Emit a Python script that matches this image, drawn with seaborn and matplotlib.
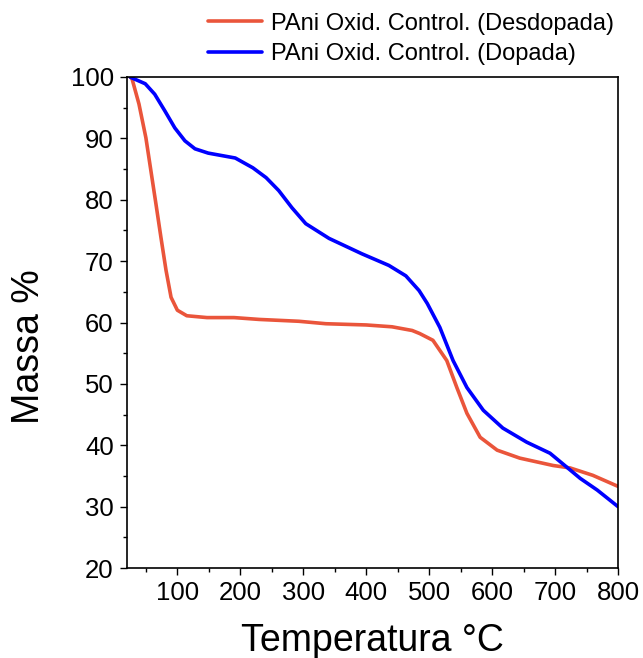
import numpy as np
import pandas as pd
import matplotlib
matplotlib.use("Agg")
import matplotlib.pyplot as plt
from matplotlib.ticker import MultipleLocator
from matplotlib.lines import Line2D
import seaborn as sns

# Data
red_T = [25, 28, 39, 50, 58, 66, 74, 82, 90, 100, 115, 147, 190, 230, 293, 336,
         400, 441, 473, 485, 506, 528, 544, 560, 581, 608, 644, 697, 724, 760, 800]
red_M = [100, 99.7, 95.6, 90.1, 84.7, 79.3, 73.8, 68.5, 64.1, 62, 61.1, 60.8, 60.8,
         60.5, 60.2, 59.8, 59.6, 59.3, 58.7, 58.2, 57.1, 53.8, 49.4, 45.2, 41.3, 39.2,
         37.9, 36.7, 36.3, 35.1, 33.3]
blue_T = [25, 29, 49, 64, 80, 96, 112, 128, 149, 192, 220, 241, 261, 282, 304, 341,
          393, 436, 463, 484, 497, 517, 538, 560, 586, 617, 655, 692, 719, 740, 767, 800]
blue_M = [100, 99.8, 98.9, 97.2, 94.5, 91.7, 89.6, 88.3, 87.6, 86.8, 85.2, 83.6, 81.5,
          78.7, 76.1, 73.7, 71.2, 69.3, 67.6, 65.2, 63.1, 59.2, 53.8, 49.4, 45.7, 42.8,
          40.5, 38.7, 36.4, 34.6, 32.7, 30]
labels = ["PAni Oxid. Control. (Desdopada)", "PAni Oxid. Control. (Dopada)"]
colors = ["#EA553B", "#0000FF"]
x_ticks = [100, 200, 300, 400, 500, 600, 700, 800]
y_ticks = [20, 30, 40, 50, 60, 70, 80, 90, 100]

df = pd.concat([
    pd.DataFrame({"T": red_T, "M": red_M, "serie": labels[0]}),
    pd.DataFrame({"T": blue_T, "M": blue_M, "serie": labels[1]}),
], ignore_index=True)

sns.set_theme(style="ticks")
plt.rcParams["font.family"] = ["Liberation Sans", "DejaVu Sans"]
plt.rcParams["text.color"] = "black"
plt.rcParams["axes.labelcolor"] = "black"

fig = plt.figure(figsize=(6.43, 6.58), dpi=100)
ax = fig.add_axes([127 / 643, 1 - 568 / 658, 491 / 643, 491 / 658])

sns.lineplot(data=df, x="T", y="M", hue="serie", palette=colors, sort=False,
             linewidth=2.6, ax=ax, legend=False)

ax.set_xlim(20, 800)
ax.set_ylim(20, 100)
ax.set_xticks(x_ticks)
ax.set_yticks(y_ticks)
ax.xaxis.set_minor_locator(MultipleLocator(50))
ax.yaxis.set_minor_locator(MultipleLocator(5))
ax.tick_params(axis="both", which="major", direction="out", length=5, width=1,
               labelsize=18.5, colors="black", pad=4.5, top=False, right=False)
ax.tick_params(axis="both", which="minor", direction="out", length=3, width=1,
               colors="black", top=False, right=False)
for s in ax.spines.values():
    s.set_visible(True)
    s.set_linewidth(1.2)
    s.set_color("black")

ax.set_xlabel("Temperatura °C", fontsize=27)
ax.set_ylabel("Massa %", fontsize=27)
ax.xaxis.set_label_coords(0.5, -0.112)
ax.yaxis.set_label_coords(-0.163, 0.451)

handles = [Line2D([], [], color=c, lw=2.6) for c in colors]
fig.legend(handles, labels, loc="upper left", bbox_to_anchor=(208 / 643, 0.981),
           frameon=False, fontsize=17, handlelength=2.3, handletextpad=0.35,
           labelspacing=0.38, borderpad=0, borderaxespad=0)

fig.savefig("out.png", dpi=100)
